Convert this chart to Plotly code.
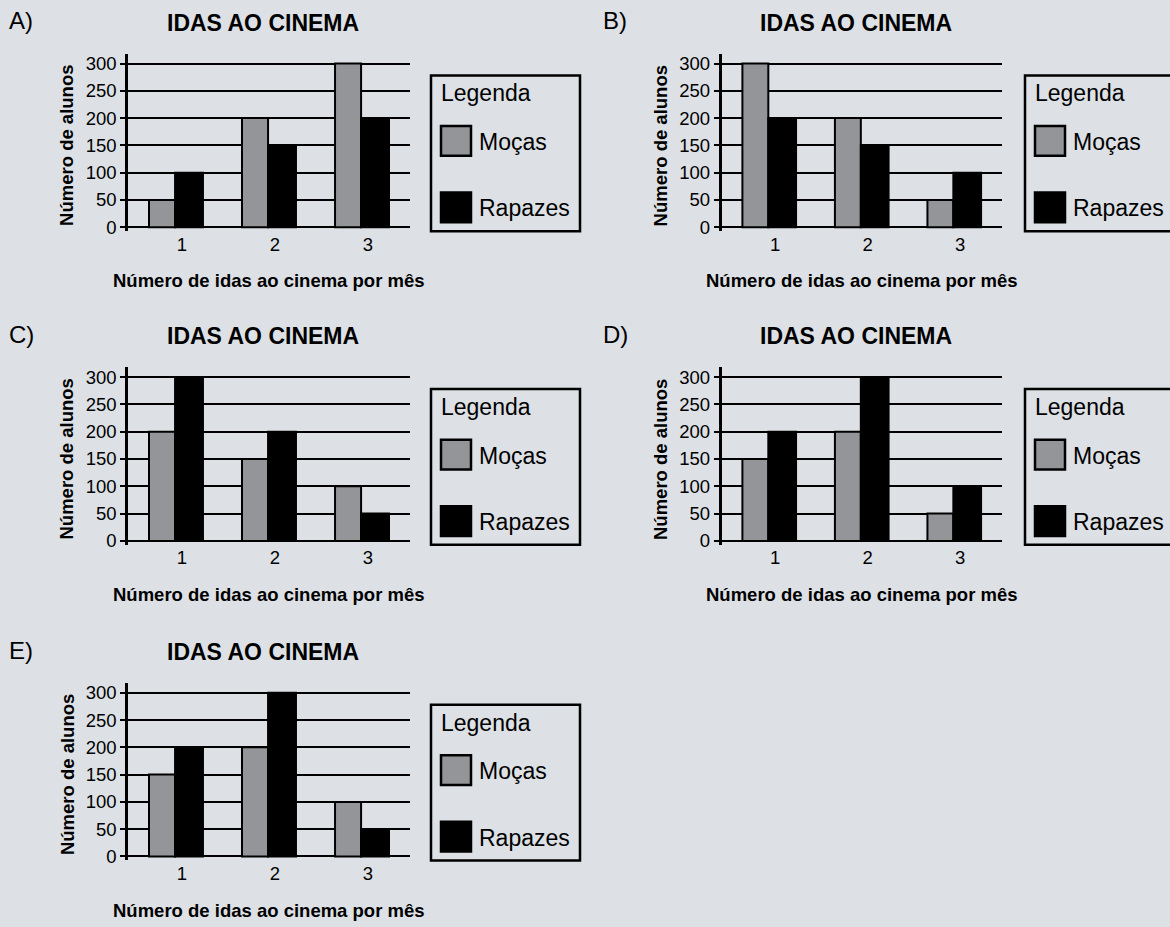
import plotly.graph_objects as go

# ---- data -------------------------------------------------------------
categories = [1, 2, 3]
tick_labels = ["1", "2", "3"]

panel_labels = ["A)", "B)", "C)", "D)", "E)"]

mocas_a = [50, 200, 300]
rapazes_a = [100, 150, 200]

mocas_b = [300, 200, 50]
rapazes_b = [200, 150, 100]

mocas_c = [200, 150, 100]
rapazes_c = [300, 200, 50]

mocas_d = [150, 200, 50]
rapazes_d = [200, 300, 100]

mocas_e = [150, 200, 100]
rapazes_e = [200, 300, 50]

y_ticks = [0, 50, 100, 150, 200, 250, 300]

title_text = "IDAS AO CINEMA"
x_title = "Número de idas ao cinema por mês"
y_title = "Número de alunos"
legend_title = "Legenda"
series_names = ["Moças", "Rapazes"]

# ---- styling / geometry ----------------------------------------------
W, H = 1170, 927
BG = "#dde1e5"
GRAY = "#939598"
BLACK = "#000000"
FONT = "Liberation Sans, Arial, Helvetica, sans-serif"

PX_PER_UNIT_Y = 165 / 300  # vertical pixels per student

# column geometry: (axis left px, axis right px, legend left px, legend right px)
LEFT_COL = (128, 410, 431, 580)
RIGHT_COL = (721.5, 1002, 1025, 1180)

# (column, pixel row of the zero line)
panel_geom = [
    (LEFT_COL, 228),
    (RIGHT_COL, 228),
    (LEFT_COL, 544),
    (RIGHT_COL, 544),
    (LEFT_COL, 862),
]

panel_data = [
    (mocas_a, rapazes_a),
    (mocas_b, rapazes_b),
    (mocas_c, rapazes_c),
    (mocas_d, rapazes_d),
    (mocas_e, rapazes_e),
]


def fx(x):
    return x / W


def fy(y):
    return 1 - y / H


fig = go.Figure()
shapes = []
annotations = []
layout_axes = {}

y_lo = -4 / PX_PER_UNIT_Y
y_hi = 300 + 10 / PX_PER_UNIT_Y

for i, (label, (col, y0), (moc, rap)) in enumerate(zip(panel_labels, panel_geom, panel_data), start=1):
    ax_l, ax_r, lg_l, lg_r = col
    xa = "x" if i == 1 else f"x{i}"
    ya = "y" if i == 1 else f"y{i}"

    fig.add_trace(go.Bar(
        x=categories, y=moc, xaxis=xa, yaxis=ya,
        width=0.28, offset=-0.29,
        marker=dict(color=GRAY, line=dict(color=BLACK, width=2)),
        showlegend=False, hoverinfo="skip",
    ))
    fig.add_trace(go.Bar(
        x=categories, y=rap, xaxis=xa, yaxis=ya,
        width=0.30, offset=-0.01,
        marker=dict(color=BLACK, line=dict(color=BLACK, width=2)),
        showlegend=False, hoverinfo="skip",
    ))

    dom_bottom = fy(y0 - y_lo * PX_PER_UNIT_Y)
    dom_top = fy(y0 - y_hi * PX_PER_UNIT_Y)

    layout_axes["xaxis" if i == 1 else f"xaxis{i}"] = dict(
        domain=[fx(ax_l), fx(ax_r)],
        range=[0.484, 3.516],
        anchor=ya,
        tickvals=categories, ticktext=tick_labels,
        ticklabelshift=6,
        showgrid=False, zeroline=False, showline=False, ticks="",
        tickfont=dict(family=FONT, size=18.5, color=BLACK),
        fixedrange=True,
    )
    layout_axes["yaxis" if i == 1 else f"yaxis{i}"] = dict(
        domain=[dom_bottom, dom_top],
        range=[y_lo, y_hi],
        anchor=xa,
        tickvals=y_ticks,
        showgrid=True, gridcolor=BLACK, gridwidth=2,
        zeroline=True, zerolinecolor=BLACK, zerolinewidth=2,
        showline=True, linecolor=BLACK, linewidth=2.5,
        ticks="outside", ticklen=5, tickwidth=2, tickcolor=BLACK,
        tickfont=dict(family=FONT, size=18.5, color=BLACK),
        fixedrange=True,
    )

    mid = (ax_l + ax_r) / 2
    top_row = y0 - 208

    # panel letter
    annotations.append(dict(
        text=label, xref="paper", yref="paper",
        x=fx(ax_l - 121), y=fy(top_row), xanchor="left", yanchor="middle",
        showarrow=False, font=dict(family=FONT, size=24, color=BLACK),
    ))
    # chart title
    annotations.append(dict(
        text=f"<b>{title_text}</b>", xref="paper", yref="paper",
        x=fx(mid - 6), y=fy(top_row + 2), xanchor="center", yanchor="middle",
        showarrow=False, font=dict(family=FONT, size=23, color=BLACK),
    ))
    # x axis title
    annotations.append(dict(
        text=f"<b>{x_title}</b>", xref="paper", yref="paper",
        x=fx(mid), y=fy(y0 + 54), xanchor="center", yanchor="middle",
        showarrow=False, font=dict(family=FONT, size=18.5, color=BLACK),
    ))
    # y axis title
    annotations.append(dict(
        text=f"<b>{y_title}</b>", xref="paper", yref="paper",
        x=fx(ax_l - 61), y=fy(y0 - 82), xanchor="center", yanchor="middle",
        textangle=-90, showarrow=False, font=dict(family=FONT, size=18.5, color=BLACK),
    ))

    # legend box
    lt, lb = y0 - 153, y0 + 4
    shapes.append(dict(
        type="rect", xref="paper", yref="paper",
        x0=fx(lg_l), x1=fx(lg_r), y0=fy(lb), y1=fy(lt),
        line=dict(color=BLACK, width=2.5), fillcolor="rgba(0,0,0,0)", layer="above",
    ))
    annotations.append(dict(
        text=legend_title, xref="paper", yref="paper",
        x=fx(lg_l + 8), y=fy(lt + 18), xanchor="left", yanchor="middle",
        showarrow=False, font=dict(family=FONT, size=23, color=BLACK),
    ))
    for name, fill, off in zip(series_names, [GRAY, BLACK], [51, 118]):
        shapes.append(dict(
            type="rect", xref="paper", yref="paper",
            x0=fx(lg_l + 10), x1=fx(lg_l + 40), y0=fy(lt + off + 30), y1=fy(lt + off),
            line=dict(color=BLACK, width=2.5), fillcolor=fill, layer="above",
        ))
        annotations.append(dict(
            text=name, xref="paper", yref="paper",
            x=fx(lg_l + 46), y=fy(lt + off + 16), xanchor="left", yanchor="middle",
            showarrow=False, font=dict(family=FONT, size=23, color=BLACK),
        ))

fig.update_layout(
    width=W, height=H,
    margin=dict(l=0, r=0, t=0, b=0),
    paper_bgcolor=BG, plot_bgcolor=BG,
    barmode="overlay",
    shapes=shapes, annotations=annotations,
    showlegend=False,
    **layout_axes,
)

fig.write_html("out.html", config={"displayModeBar": False})
